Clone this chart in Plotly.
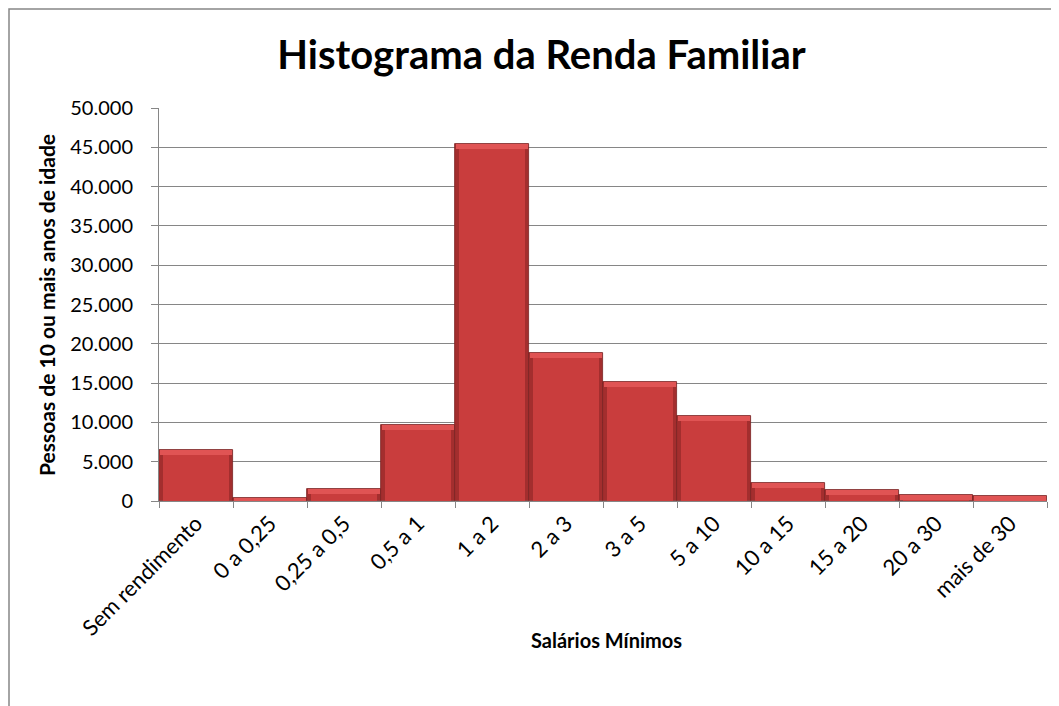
import plotly.graph_objects as go

categories = ["Sem rendimento", "0 a 0,25", "0,25 a 0,5", "0,5 a 1", "1 a 2", "2 a 3",
              "3 a 5", "5 a 10", "10 a 15", "15 a 20", "20 a 30", "mais de 30"]
pessoas = [6500, 350, 1500, 9700, 45400, 18800, 15100, 10850, 2250, 1360, 720, 600]
y_ticks = [0, 5000, 10000, 15000, 20000, 25000, 30000, 35000, 40000, 45000, 50000]

# the page body adds an 8px offset; layout values below are figure pixels
OFF = 8
W, H = 1059, 706
L, T = 159 - OFF, 108 - OFF
R = W - (1047 - OFF)
B = H - (501 - OFF)
pw, ph = W - L - R, H - T - B

def px_x(p):
    return (p - OFF - L) / pw

def px_y(p):
    return (H - B - (p - OFF)) / ph

ymax = 50000
bevel = 5 / ph * ymax
body_h = [max(v - bevel, 0) for v in pessoas]
top_base = body_h
top_h = [v - b for v, b in zip(pessoas, body_h)]

fig = go.Figure()
fig.add_trace(go.Bar(
    x=categories, y=pessoas, width=1.0,
    marker=dict(color="#A32E2E", line=dict(color="#7A2222", width=0.8)),
    hoverinfo="skip",
))
fig.add_trace(go.Bar(
    x=categories, y=body_h, width=0.9,
    marker=dict(color="#C93D3D", line=dict(width=0)),
))
fig.add_trace(go.Bar(
    x=categories, y=top_h, base=top_base, width=0.97,
    marker=dict(color="#E05454", line=dict(width=0)),
    hoverinfo="skip",
))

GRID = "#868686"
font = "Lato"
fig.update_layout(
    width=W, height=H,
    margin=dict(l=L, r=R, t=T, b=B),
    paper_bgcolor="white", plot_bgcolor="white",
    separators=",.",
    barmode="overlay",
    bargap=0,
    showlegend=False,
    title=dict(text="<b>Histograma da Renda Familiar</b>", x=(541.5 - OFF) / W, xanchor="center",
               y=1 - (55 - OFF) / H, yanchor="middle",
               font=dict(family=font, size=40, color="black")),
    font=dict(family=font, color="black"),
    xaxis=dict(
        type="category", tickangle=-45, tickson="boundaries",
        ticks="outside", ticklen=6, tickcolor=GRID,
        showline=True, linecolor=GRID, linewidth=1,
        tickfont=dict(size=22, family=font),
        showgrid=False,
    ),
    yaxis=dict(
        range=[0, ymax], tickvals=y_ticks, tickformat=",.0f",
        ticks="outside", ticklen=7, tickcolor=GRID,
        showline=True, linecolor=GRID, linewidth=1,
        gridcolor=GRID, gridwidth=1,
        tickfont=dict(size=20, family=font),
        ticklabelstandoff=14,
        zeroline=False,
    ),
    annotations=[
        dict(text="<b>Salários Mínimos</b>", xref="paper", yref="paper",
             x=px_x(606), y=px_y(640), xanchor="center", yanchor="middle",
             showarrow=False, font=dict(size=20, family=font)),
        dict(text="<b>Pessoas de 10 ou mais anos de idade</b>", xref="paper", yref="paper",
             x=px_x(46), y=px_y(305), xanchor="center", yanchor="middle", textangle=-90,
             showarrow=False, font=dict(size=21, family=font)),
    ],
)

fig.add_shape(type="rect", xref="paper", yref="paper",
              x0=px_x(9), x1=px_x(1075), y0=px_y(720), y1=px_y(9),
              line=dict(color=GRID, width=1.5), fillcolor="rgba(0,0,0,0)", layer="below")

fig.write_html("out.html")
